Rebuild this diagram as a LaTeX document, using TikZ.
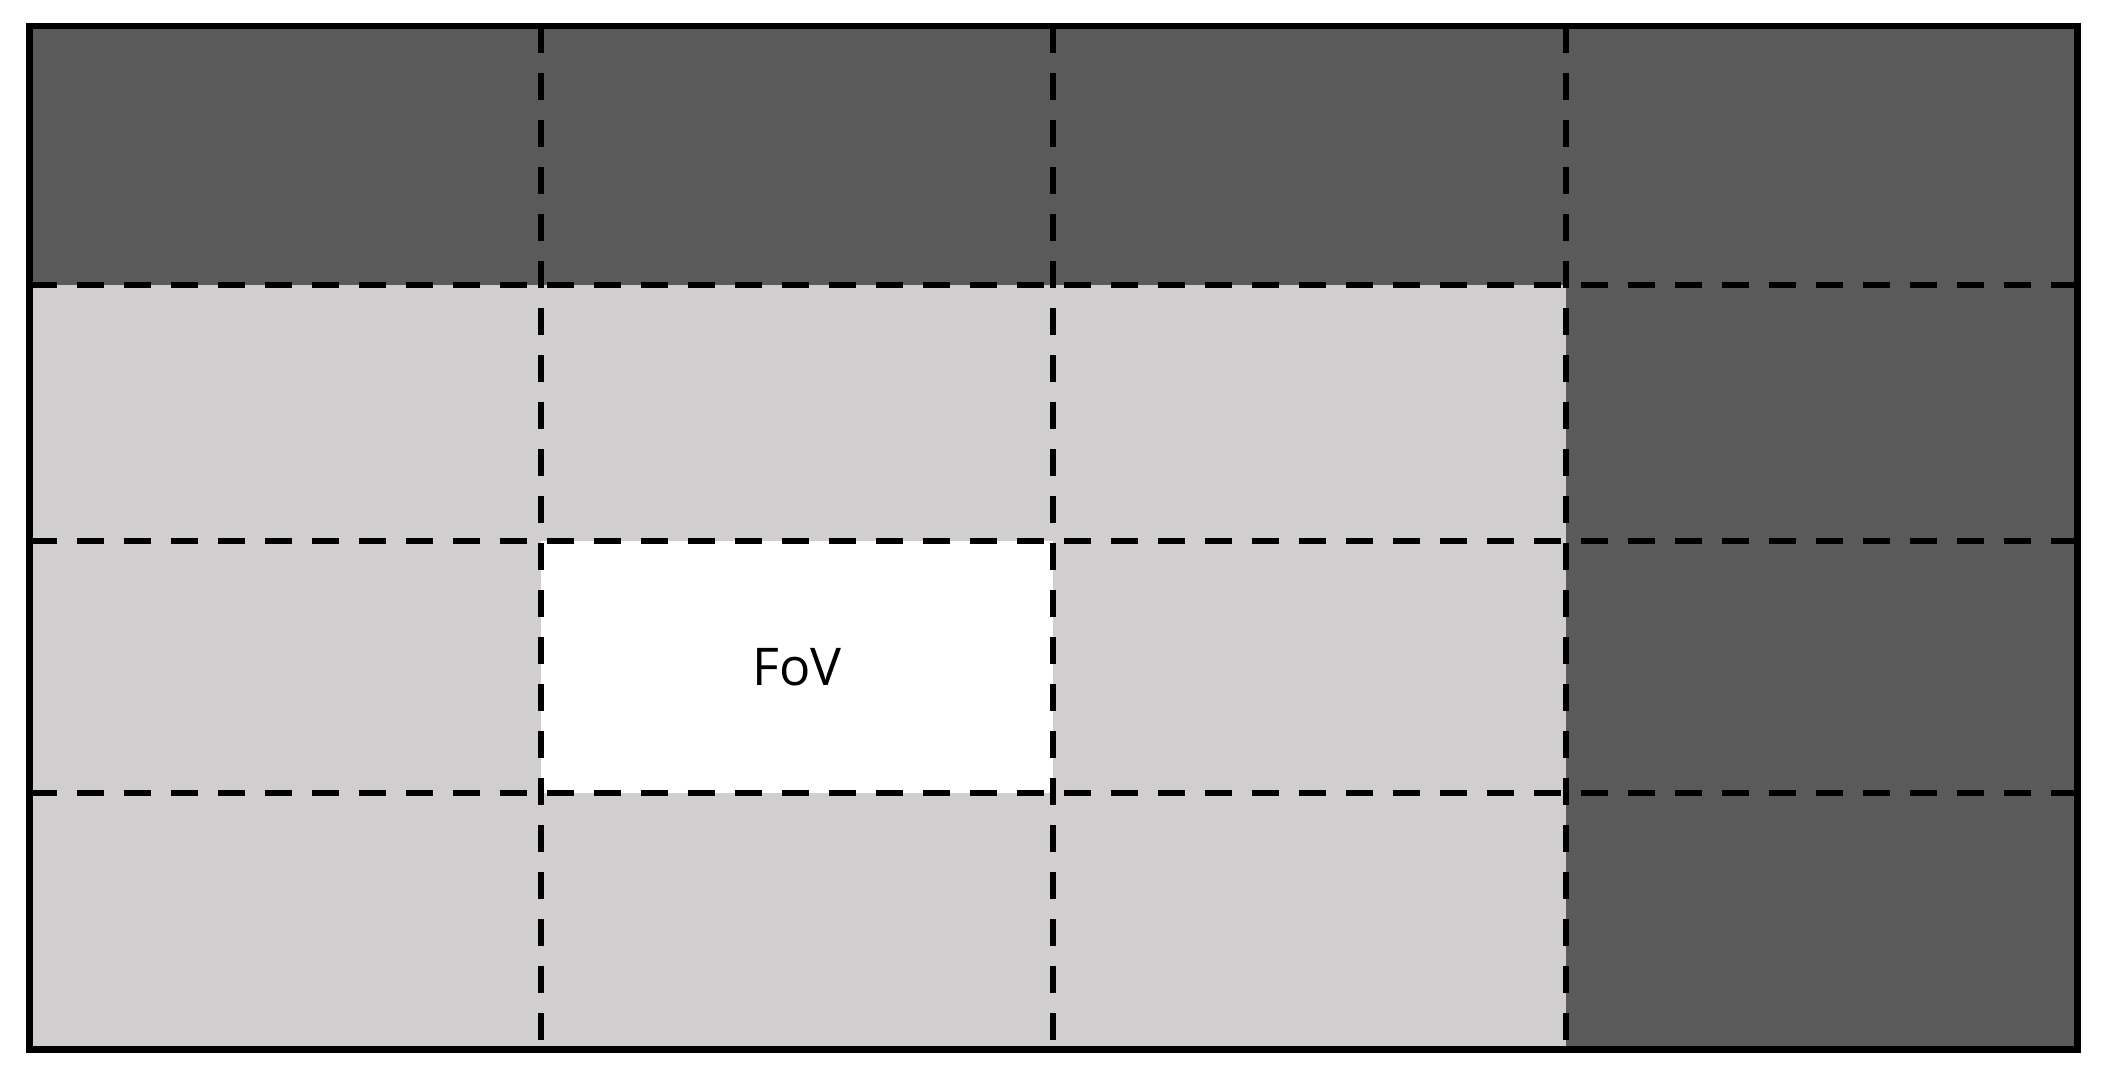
\documentclass[tikz,border=0pt]{standalone}
\usepackage{fontspec}
\setsansfont{Open Sans}
\definecolor{darkcell}{HTML}{5A5A5A}
\definecolor{lightcell}{HTML}{D0CECF}
\tikzset{
  gridline/.style={black,line width=3pt,dash pattern=on 13.5pt off 10pt},
  frame/.style={black,line width=3.25pt},
  fovlabel/.style={font=\sffamily\fontsize{26}{31}\selectfont,inner sep=0pt},
}

\begin{document}
\begin{tikzpicture}[x=0.5pt,y=-0.5pt,line join=miter]
%%
\useasboundingbox (0,0) rectangle (2117,1083);
% cells
\fill[lightcell] (29.5,285) rectangle (1566,1049.5);
\fill[darkcell] (29.5,26) rectangle (2077.5,285);
\fill[darkcell] (1566,285) rectangle (2077.5,1049.5);
\fill[white] (541,541) rectangle (1053,793);
% dashed grid
\foreach \gx in {541,1053,1566}
  \draw[gridline] (\gx,26) -- (\gx,1049.5);
\foreach \gy in {285,541,793}
  \draw[gridline] (29.5,\gy) -- (2077.5,\gy);
\draw[frame] (29.5,26) rectangle (2077.5,1049.5);
\node[fovlabel] (fov) at (797,667) {FoV};
%
\end{tikzpicture}
\end{document}
